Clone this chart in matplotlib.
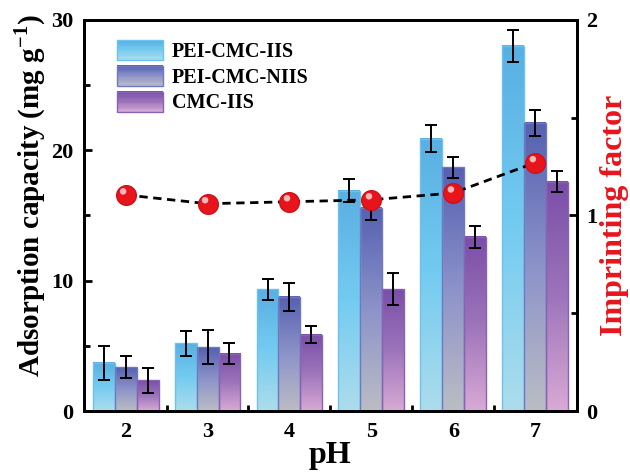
import numpy as np
import matplotlib
matplotlib.use("Agg")
import matplotlib.pyplot as plt
from matplotlib.colors import LinearSegmentedColormap
from matplotlib.patches import Rectangle
from matplotlib.legend_handler import HandlerBase
from matplotlib.ticker import MultipleLocator

ph = [2, 3, 4, 5, 6, 7]
series = ["PEI-CMC-IIS", "PEI-CMC-NIIS", "CMC-IIS"]
iis = [3.7, 5.2, 9.35, 16.9, 20.9, 28.0]
iis_err = [1.3, 0.95, 0.8, 0.9, 1.0, 1.2]
niis = [3.35, 4.9, 8.75, 15.6, 18.7, 22.1]
niis_err = [0.85, 1.3, 1.1, 0.97, 0.8, 1.0]
cmc = [2.35, 4.4, 5.85, 9.35, 13.35, 17.6]
cmc_err = [0.95, 0.8, 0.67, 1.2, 0.87, 0.8]
imprint = [1.105, 1.06, 1.07, 1.08, 1.115, 1.27]

values = [iis, niis, cmc]
errors = [iis_err, niis_err, cmc_err]
grad_colors = [
    ["#ADDDEB", "#74CBF1", "#58AFE2"],
    ["#BBBDC4", "#8C93C9", "#5560B0"],
    ["#D9AAD5", "#9C74BA", "#7A4EA8"],
]
edge_colors = ["#6CC2EE", "#7078C0", "#8A62B4"]
cmaps = [LinearSegmentedColormap.from_list(f"g{i}", c) for i, c in enumerate(grad_colors)]

plt.rcParams["font.family"] = ["Liberation Serif", "DejaVu Serif"]
plt.rcParams["font.weight"] = "bold"
plt.rcParams["mathtext.fontset"] = "custom"
plt.rcParams["mathtext.rm"] = "Liberation Serif:bold"
plt.rcParams["mathtext.bf"] = "Liberation Serif:bold"

fig = plt.figure(figsize=(6.3, 4.73), dpi=100)
ax = fig.add_axes([0.133, 0.131, 0.783, 0.827])

width = 0.268
x = np.arange(len(ph))
grad = np.linspace(0, 1, 256).reshape(-1, 1)
for s in range(3):
    offs = (s - 1) * width
    for i, v in enumerate(values[s]):
        x0 = x[i] + offs - width / 2
        ax.imshow(grad, extent=[x0, x0 + width, 0, v], origin="lower",
                  aspect="auto", cmap=cmaps[s], zorder=2)
        ax.add_patch(Rectangle((x0, 0), width, v, fill=False,
                               edgecolor=edge_colors[s], lw=1.0, zorder=3))
    ax.errorbar(x + offs, values[s], yerr=errors[s], fmt="none", ecolor="black",
                elinewidth=1.4, capsize=4, capthick=1.4, zorder=4)

ax.set_xlim(-0.51, 5.51)
ax.set_ylim(0, 30)
ax.set_xticks(x)
ax.set_xticklabels([str(p) for p in ph])
ax.set_xticks(x[:-1] + 0.5, minor=True)
ax.yaxis.set_major_locator(MultipleLocator(10))
ax.yaxis.set_minor_locator(MultipleLocator(5))
ax.set_ylabel(r"Adsorption capacity (mg g$^{-1}$)", fontsize=21, fontweight="bold", labelpad=2)
ax.yaxis.label.set_y(0.55)
ax.set_xlabel("pH", fontsize=23, fontweight="bold", labelpad=-1)

ax2 = ax.twinx()
ax2.plot(x, imprint, linestyle=(0, (3, 2)), color="black", lw=2, zorder=3)
ax2.scatter(x, imprint, s=200, color="#E8141C", edgecolor="#D01018", zorder=4)
ax2.scatter(x - 0.03, np.array(imprint) + 0.018, s=22, color="white", alpha=0.7, edgecolor="none", zorder=5)
ax2.set_ylim(0, 2)
ax2.yaxis.set_major_locator(MultipleLocator(1))
ax2.yaxis.set_minor_locator(MultipleLocator(0.5))
ax2.set_ylabel("Imprinting factor", fontsize=23, fontweight="bold", color="#E8141C", labelpad=2)

for a in (ax, ax2):
    for sp in a.spines.values():
        sp.set_linewidth(2)
    a.tick_params(which="major", direction="in", length=6, width=2, labelsize=16)
    a.tick_params(which="minor", direction="in", length=4, width=2)
    for lab in a.get_xticklabels() + a.get_yticklabels():
        lab.set_fontweight("bold")
ax.tick_params(axis="x", pad=8)
ax.tick_params(axis="y", which="major", pad=7.5)
ax2.tick_params(axis="y", which="major", pad=6.5)


class GradHandler(HandlerBase):
    def __init__(self, cmap, edge):
        super().__init__()
        self.cmap = cmap
        self.edge = edge

    def create_artists(self, legend, orig_handle, xdescent, ydescent, width, height, fontsize, trans):
        arts = []
        n = 16
        for k in range(n):
            arts.append(Rectangle((-xdescent, -ydescent + height * k / n), width, height / n + 0.3,
                                  facecolor=self.cmap((k + 0.5) / n), edgecolor="none", transform=trans))
        arts.append(Rectangle((-xdescent, -ydescent), width, height, fill=False,
                              edgecolor=self.edge, lw=1, transform=trans))
        return arts


handles = [Rectangle((0, 0), 1, 1) for _ in series]
hmap = {h: GradHandler(cmaps[i], edge_colors[i]) for i, h in enumerate(handles)}
ax.legend(handles, series, handler_map=hmap, loc="upper left", bbox_to_anchor=(0.03, 0.995),
          frameon=False, handlelength=2.3, handleheight=1.15, labelspacing=0.2,
          handletextpad=0.45, prop={"weight": "bold", "size": 14.5})

fig.savefig("out.png", dpi=100)
